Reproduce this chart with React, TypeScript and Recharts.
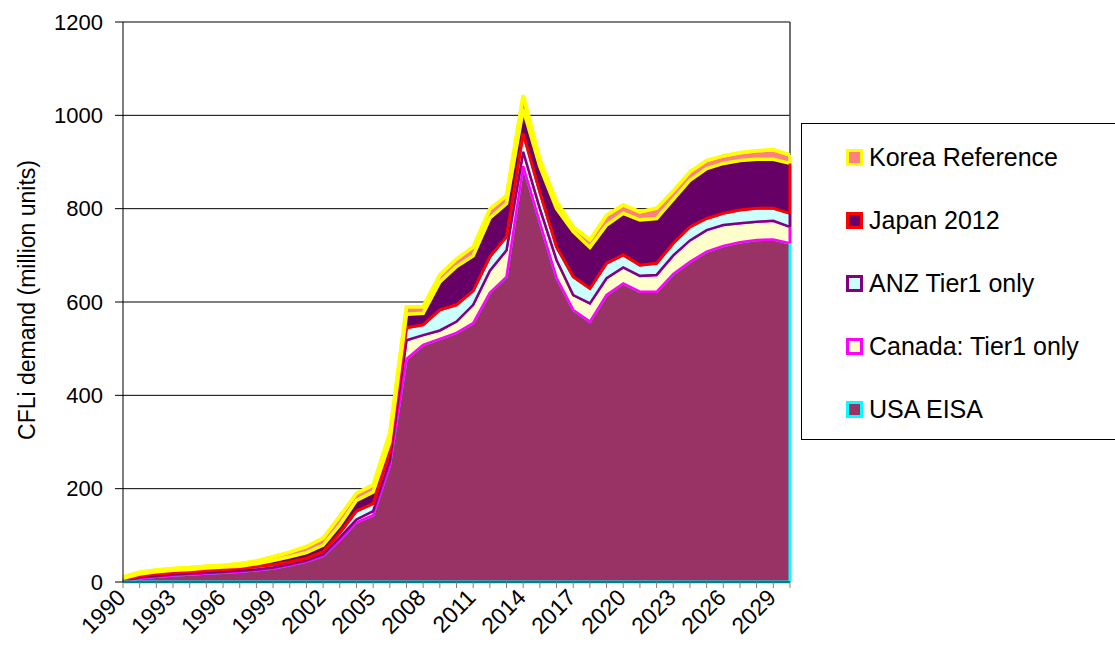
import React from 'react';
import { ComposedChart, Area, Line, XAxis, YAxis, CartesianGrid, ReferenceLine } from 'recharts';

// years on the category axis
const years = [
  '1990', '1991', '1992', '1993', '1994', '1995', '1996', '1997', '1998', '1999',
  '2000', '2001', '2002', '2003', '2004', '2005', '2006', '2007', '2008', '2009',
  '2010', '2011', '2012', '2013', '2014', '2015', '2016', '2017', '2018', '2019',
  '2020', '2021', '2022', '2023', '2024', '2025', '2026', '2027', '2028', '2029', '2030',
];

// CFLi demand, million units
const usaEisa = [
  1, 8, 11, 14, 16, 18, 20, 22, 25, 29,
  36, 44, 56, 90, 128, 143, 250, 478, 508, 521,
  534, 555, 620, 654, 891, 770, 652, 583, 558, 615,
  640, 622, 622, 660, 686, 708, 720, 728, 733, 734, 726,
];
const canadaTier1 = [
  1, 2, 2, 2, 2, 2, 2, 2, 2, 2,
  2, 2, 3, 5, 6, 9, 10, 40, 21, 18,
  24, 39, 47, 57, 31, 30, 38, 32, 39, 36,
  34, 34, 36, 40, 46, 46, 45, 41, 39, 40, 35,
];
const anzTier1 = [
  2, 3, 4, 4, 4, 4, 4, 5, 6, 6,
  5, 5, 6, 10, 18, 16, 18, 27, 22, 44,
  36, 30, 30, 29, 39, 35, 28, 39, 32, 32,
  27, 23, 25, 26, 29, 25, 25, 28, 29, 27, 29,
];
const japan2012 = [
  4, 4, 5, 5, 5, 6, 6, 5, 6, 9,
  11, 12, 14, 17, 23, 25, 22, 29, 25, 60,
  82, 75, 83, 71, 52, 55, 82, 97, 88, 82,
  89, 97, 96, 94, 100, 107, 107, 106, 105, 105, 107,
];
const koreaRef = [
  3, 4, 4, 4, 4, 4, 4, 5, 6, 8,
  10, 13, 15, 19, 15, 15, 19, 16, 14, 15,
  16, 19, 19, 17, 30, 15, 15, 10, 16, 21,
  18, 17, 22, 18, 18, 17, 16, 17, 18, 20, 18,
];

const yTicks = [0, 200, 400, 600, 800, 1000, 1200];

const series = [
  { key: 'usa', name: 'USA EISA', fill: '#993366', stroke: '#00FFFF' },
  { key: 'canada', name: 'Canada: Tier1 only', fill: '#FFFFCC', stroke: '#FF00FF' },
  { key: 'anz', name: 'ANZ Tier1 only', fill: '#CCFFFF', stroke: '#800080' },
  { key: 'japan', name: 'Japan 2012', fill: '#660066', stroke: '#FF0000' },
  { key: 'korea', name: 'Korea Reference', fill: '#FF8080', stroke: '#FFFF00' },
];
const widths: Record<string, number> = { usa: 2.5, canada: 2.5, anz: 2.5, japan: 3, korea: 3.5 };

const data = years.map((year, i) => {
  const b1 = usaEisa[i];
  const b2 = b1 + canadaTier1[i];
  const b3 = b2 + anzTier1[i];
  const b4 = b3 + japan2012[i];
  return {
    year,
    usa: usaEisa[i],
    canada: canadaTier1[i],
    anz: anzTier1[i],
    japan: japan2012[i],
    korea: koreaRef[i],
    b1, b2, b3, b4,
    b5: b4 + koreaRef[i],
  };
});
const last = data[data.length - 1];

const font = '"Liberation Sans", Arial, sans-serif';

// every year gets a tick mark, every third year a label
const YearTick = (props: any) => {
  const { x, y, payload, index } = props;
  if (index % 3 !== 0) return null;
  const ax = x + 4;
  const ay = y + 9;
  return (
    <text
      x={ax}
      y={ay}
      transform={`rotate(-45, ${ax}, ${ay})`}
      textAnchor="end"
      fontSize={23}
      fontFamily={font}
      fill="#000"
    >
      {payload.value}
    </text>
  );
};

const App: React.FC = () => {
  const legendOrder = [...series].reverse();
  return (
    <div style={{ position: 'absolute', left: 0, top: 0, width: 1115, height: 661, background: '#fff', overflow: 'hidden' }}>
      <ComposedChart
        width={1115}
        height={661}
        data={data}
        margin={{ top: 22, right: 325, left: 63, bottom: 19 }}
      >
        <CartesianGrid vertical={false} stroke="#000" strokeWidth={1} />
        <XAxis
          dataKey="year"
          scale="point"
          interval={0}
          height={60}
          tick={<YearTick />}
          tickSize={6}
          tickLine={{ stroke: '#808080' }}
          axisLine={{ stroke: '#000' }}
        />
        <YAxis
          domain={[0, 1200]}
          ticks={yTicks}
          width={60}
          tickSize={8}
          tickMargin={12}
          tickLine={{ stroke: '#000' }}
          axisLine={{ stroke: '#000' }}
          tick={{ fontSize: 22, fontFamily: font, fill: '#000' }}
        />
        <ReferenceLine x="2030" stroke="#404040" strokeWidth={1.5} />
        {series.map((s) => (
          <Area
            key={s.key}
            type="linear"
            dataKey={s.key}
            stackId="1"
            fill={s.fill}
            fillOpacity={1}
            stroke={s.stroke}
            strokeWidth={widths[s.key]}
            isAnimationActive={false}
          />
        ))}
        {/* bottom outlines, drawn in the colour of the series above, as Excel does */}
        <Line dataKey="b1" type="linear" stroke="#FF00FF" strokeWidth={2.5} dot={false} isAnimationActive={false} />
        <Line dataKey="b2" type="linear" stroke="#800080" strokeWidth={2.5} dot={false} isAnimationActive={false} />
        <Line dataKey="b3" type="linear" stroke="#FF0000" strokeWidth={3} dot={false} isAnimationActive={false} />
        <Line dataKey="b4" type="linear" stroke="#FFFF00" strokeWidth={3.5} dot={false} isAnimationActive={false} />
        <Line dataKey="b5" type="linear" stroke="#FFFF00" strokeWidth={3.5} dot={false} isAnimationActive={false} />
        <ReferenceLine y={0} stroke="#00FFFF" strokeWidth={3} />
        <ReferenceLine segment={[{ x: '2030', y: 0 }, { x: '2030', y: last.b1 }]} stroke="#00FFFF" strokeWidth={3} />
        <ReferenceLine segment={[{ x: '2030', y: last.b1 }, { x: '2030', y: last.b2 }]} stroke="#FF00FF" strokeWidth={3} />
        <ReferenceLine segment={[{ x: '2030', y: last.b2 }, { x: '2030', y: last.b3 }]} stroke="#800080" strokeWidth={3} />
        <ReferenceLine segment={[{ x: '2030', y: last.b3 }, { x: '2030', y: last.b4 }]} stroke="#FF0000" strokeWidth={3} />
        <ReferenceLine segment={[{ x: '2030', y: last.b4 }, { x: '2030', y: last.b5 }]} stroke="#FFFF00" strokeWidth={3.5} />
      </ComposedChart>

      {/* y axis title */}
      <div
        style={{
          position: 'absolute',
          left: 27,
          top: 300,
          transform: 'translate(-50%, -50%) rotate(-90deg)',
          whiteSpace: 'nowrap',
          fontFamily: font,
          fontSize: 23,
          color: '#000',
        }}
      >
        CFLi demand (million units)
      </div>

      {/* legend box */}
      <div
        style={{
          position: 'absolute',
          left: 801,
          top: 123,
          width: 340,
          height: 317,
          border: '1px solid #000',
          boxSizing: 'border-box',
          background: '#fff',
          fontFamily: font,
        }}
      >
        {legendOrder.map((s, i) => (
          <div
            key={s.key}
            style={{
              position: 'absolute',
              left: 44,
              top: 33 + i * 63 - 15,
              height: 30,
              display: 'flex',
              alignItems: 'center',
              whiteSpace: 'nowrap',
            }}
          >
            <span
              style={{
                display: 'inline-block',
                width: 17,
                height: 17,
                boxSizing: 'border-box',
                border: `3px solid ${s.stroke}`,
                background: s.fill,
                marginRight: 6,
              }}
            />
            <span style={{ fontSize: 25, color: '#000' }}>{s.name}</span>
          </div>
        ))}
      </div>
    </div>
  );
};

export default App;
